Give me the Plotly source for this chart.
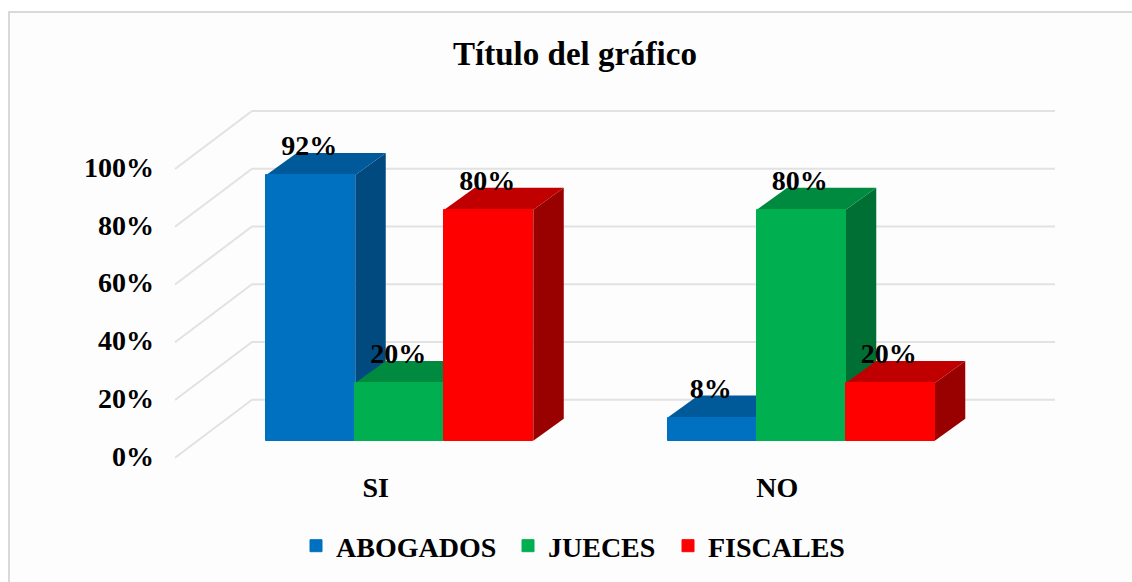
import plotly.graph_objects as go

# ---- data ----
categories = ["SI", "NO"]
series_names = ["ABOGADOS", "JUECES", "FISCALES"]
abogados = [92, 8]
jueces = [20, 80]
fiscales = [80, 20]
y_ticks = [0, 20, 40, 60, 80, 100]

front_colors = ["#0070C0", "#00B050", "#FF0000"]
top_colors = ["#005A9A", "#008A40", "#C00000"]
side_colors = ["#004A80", "#006F33", "#990000"]
legend_lefts = [296, 508, 668]       # page pixels of each legend entry

W, H = 1132, 582
L, R, T, B = 155, 1070, 90, 468      # plot box in page pixels
X0, UX = 175.0, 401.5                # pixel of x=0, pixels per category
Y0, UY = 457.7, 2.887                # pixel of y=0, pixels per percentage point

WALL_DX, WALL_DY = 77 / UX, 58 / UY       # floor depth
FRONT_DX, FRONT_DY = 24 / UX, 17 / UY     # bar front plane shift
DEPTH_DX, DEPTH_DY = 30.5 / UX, 22 / UY   # bar depth
BAR_W = 0.2217
LABEL_DX, LABEL_DY = -1.5 / UX, 27 / UY

FONT = "Liberation Serif"
GRID = "#E2E2E2"

series_values = [abogados, jueces, fiscales]


def px(v):
    return (v - L) / (R - L)


def py(v):
    return (B - v) / (B - T)


shapes = [
    dict(type="rect", xref="paper", yref="paper", x0=px(9), x1=px(W + 20),
         y0=py(H + 20), y1=py(12), fillcolor="#FDFDFD",
         line=dict(color="#D9D9D9", width=2), layer="below"),
]

# floor diagonals and back-wall gridlines
for t in y_ticks:
    shapes.append(dict(
        type="path", layer="below",
        path=f"M 0 {t} L {WALL_DX} {t + WALL_DY} L {2 + WALL_DX} {t + WALL_DY}",
        line=dict(color=GRID, width=2),
    ))

fig = go.Figure()

# 3D faces (painted left to right) plus the front faces as real bars
for c in range(len(categories)):
    for s in range(len(series_names)):
        v = series_values[s][c]
        xc = c + 0.5 + FRONT_DX + (s - 1) * BAR_W
        xl, xr = xc - BAR_W / 2, xc + BAR_W / 2
        y1 = FRONT_DY + v
        # side face
        shapes.append(dict(
            type="path", layer="below", fillcolor=side_colors[s], line=dict(width=0),
            path=(f"M {xr} {FRONT_DY} L {xr + DEPTH_DX} {FRONT_DY + DEPTH_DY} "
                  f"L {xr + DEPTH_DX} {y1 + DEPTH_DY} L {xr} {y1} Z"),
        ))
        # top face
        shapes.append(dict(
            type="path", layer="below", fillcolor=top_colors[s], line=dict(width=0),
            path=(f"M {xl} {y1} L {xr} {y1} L {xr + DEPTH_DX} {y1 + DEPTH_DY} "
                  f"L {xl + DEPTH_DX} {y1 + DEPTH_DY} Z"),
        ))

legend_ids = ["legend", "legend2", "legend3"]
for s, name in enumerate(series_names):
    xs = [c + 0.5 + FRONT_DX + (s - 1) * BAR_W for c in range(len(categories))]
    fig.add_trace(go.Bar(
        name=name, x=xs, y=series_values[s], base=FRONT_DY, width=BAR_W, legend=legend_ids[s],
        marker=dict(color=front_colors[s], line=dict(color=front_colors[s], width=1)),
        hoverinfo="skip", showlegend=True,
    ))

# data labels
for s, name in enumerate(series_names):
    xs = [c + 0.5 + FRONT_DX + (s - 1) * BAR_W + LABEL_DX for c in range(len(categories))]
    ys = [FRONT_DY + v + LABEL_DY for v in series_values[s]]
    fig.add_trace(go.Scatter(
        x=xs, y=ys, mode="text", text=[f"{v}%" for v in series_values[s]],
        textposition="middle center", showlegend=False, hoverinfo="skip",
        textfont=dict(family=FONT, size=28, color="#000000", weight=700),
    ))

legend_layout = {
    lid: dict(
        orientation="h", xref="container", yref="container",
        x=left / W, y=1 - 546 / H, xanchor="left", yanchor="middle",
        font=dict(family=FONT, size=28, color="#000000", weight=700),
        bgcolor="rgba(0,0,0,0)",
    )
    for lid, left in zip(legend_ids, legend_lefts)
}

fig.update_layout(
    width=W, height=H, autosize=False,
    margin=dict(l=L, r=W - R, t=T, b=H - B, pad=0),
    paper_bgcolor="white", plot_bgcolor="rgba(0,0,0,0)",
    barmode="overlay", bargap=0,
    shapes=shapes,
    title=dict(
        text="Título del gráfico", x=575 / W, y=1 - 53 / H, xref="container", yref="container",
        xanchor="center", yanchor="middle",
        font=dict(family=FONT, size=33, color="#000000", weight=700),
    ),
    xaxis=dict(
        range=[(L - X0) / UX, (R - X0) / UX],
        tickmode="array", tickvals=[c + 0.5 for c in range(len(categories))], ticktext=categories,
        showgrid=False, zeroline=False, showline=False, ticks="",
        tickfont=dict(family=FONT, size=28, color="#000000", weight=700),
    ),
    yaxis=dict(
        range=[(Y0 - B) / UY, (Y0 - T) / UY],
        tickmode="array", tickvals=y_ticks, ticktext=[f"{t}%" for t in y_ticks],
        showgrid=False, zeroline=False, showline=False, ticks="", ticklabelshift=-2,
        tickfont=dict(family=FONT, size=28, color="#000000", weight=700),
    ),
    **legend_layout,
)

fig.write_html("out.html", config=dict(displayModeBar=False),
               post_script="document.body.style.margin='0';")
